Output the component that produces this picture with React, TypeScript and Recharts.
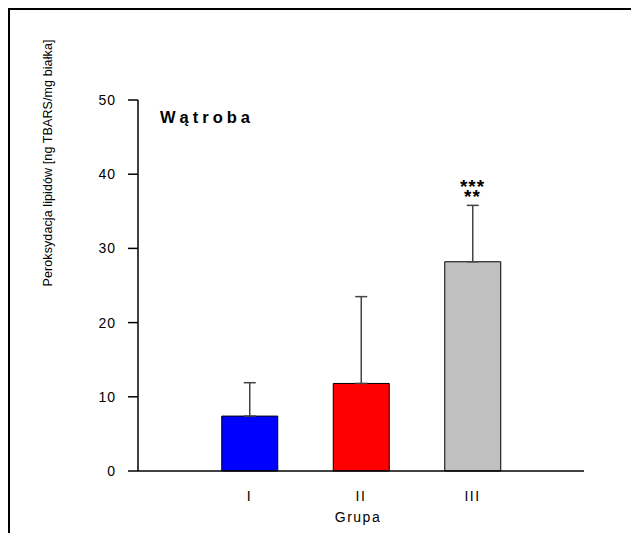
import React from "react";
import {
  BarChart,
  Bar,
  XAxis,
  YAxis,
  ErrorBar,
  Cell,
  ReferenceDot,
  Customized,
} from "recharts";

const groups = ["I", "II", "III"];
const groupPos = [1, 2, 3];
const means = [7.4, 11.8, 28.2];
const sds = [4.5, 11.7, 7.6];
const fills = ["#0000ff", "#ff0000", "#c0c0c0"];
const yTicks = [0, 10, 20, 30, 40, 50];
const signifRows = ["***", "**"];

const FONT = "'Liberation Sans', Arial, sans-serif";

const data = groups.map((g, i) => ({
  name: g,
  pos: groupPos[i],
  mean: means[i],
  // only the upper whisker is drawn
  err: [0, sds[i]],
}));

const SignifLabel = (props: any) => {
  const { viewBox } = props;
  const cx = viewBox.x + viewBox.width / 2;
  const cy = viewBox.y;
  return (
    <text
      x={cx}
      y={cy - 2 - (signifRows.length - 1) * 10}
      textAnchor="middle"
      fontFamily={FONT}
      fontSize={19}
      fontWeight="bold"
      letterSpacing={1}
      fill="#000"
    >
      {signifRows.map((s, i) => (
        <tspan key={i} x={cx} dy={i === 0 ? 0 : 10}>
          {s}
        </tspan>
      ))}
    </text>
  );
};

const Annotations = () => (
  <g fontFamily={FONT} fill="#000">
    <text x={152} y={115} fontSize={16.5} fontWeight="bold" letterSpacing={4}>
      Wątroba
    </text>
    <text
      x={0}
      y={0}
      transform="translate(44, 155) rotate(-90)"
      textAnchor="middle"
      fontSize={12.5}
      letterSpacing={0.1}
    >
      Peroksydacja lipidów [ng TBARS/mg białka]
    </text>
    <text x={350} y={514} textAnchor="middle" fontSize={14} letterSpacing={1.5}>
      Grupa
    </text>
  </g>
);

export default function App() {
  return (
    <div
      style={{
        position: "relative",
        width: 631,
        height: 525,
        borderTop: "2px solid #000",
        borderLeft: "2px solid #000",
        boxSizing: "border-box",
        background: "#fff",
      }}
    >
      <div style={{ position: "absolute", left: -2, top: -2 }}>
        <BarChart
          width={631}
          height={525}
          data={data}
          margin={{ top: 92, right: 55, bottom: 32, left: 70 }}
        >
          <XAxis
            type="number"
            dataKey="pos"
            domain={[0, 4]}
            ticks={groupPos}
            tickFormatter={(v: number) => groups[groupPos.indexOf(v)] ?? ""}
            tickLine={false}
            axisLine={{ stroke: "#000", strokeWidth: 1.5 }}
            tick={{ fill: "#000", fontSize: 14, fontFamily: FONT, letterSpacing: 1.5 }}
            tickMargin={14}
            height={30}
          />
          <YAxis
            type="number"
            domain={[0, 50]}
            ticks={yTicks}
            tickSize={10}
            tickMargin={12}
            tickLine={{ stroke: "#000", strokeWidth: 1.5 }}
            axisLine={{ stroke: "#000", strokeWidth: 1.5 }}
            tick={{ fill: "#000", fontSize: 14, fontFamily: FONT, letterSpacing: 1 }}
            width={60}
          />
          <Bar
            dataKey="mean"
            barSize={56}
            stroke="#000"
            strokeWidth={1}
            isAnimationActive={false}
          >
            {data.map((d, i) => (
              <Cell key={d.name} fill={fills[i]} />
            ))}
            <ErrorBar
              dataKey="err"
              direction="y"
              width={6}
              stroke="#444"
              strokeWidth={1.5}
            />
          </Bar>
          <ReferenceDot
            x={groupPos[2]}
            y={means[2] + sds[2]}
            r={0}
            fill="none"
            stroke="none"
            label={<SignifLabel />}
          />
          <Customized component={Annotations} />
        </BarChart>
      </div>
    </div>
  );
}
